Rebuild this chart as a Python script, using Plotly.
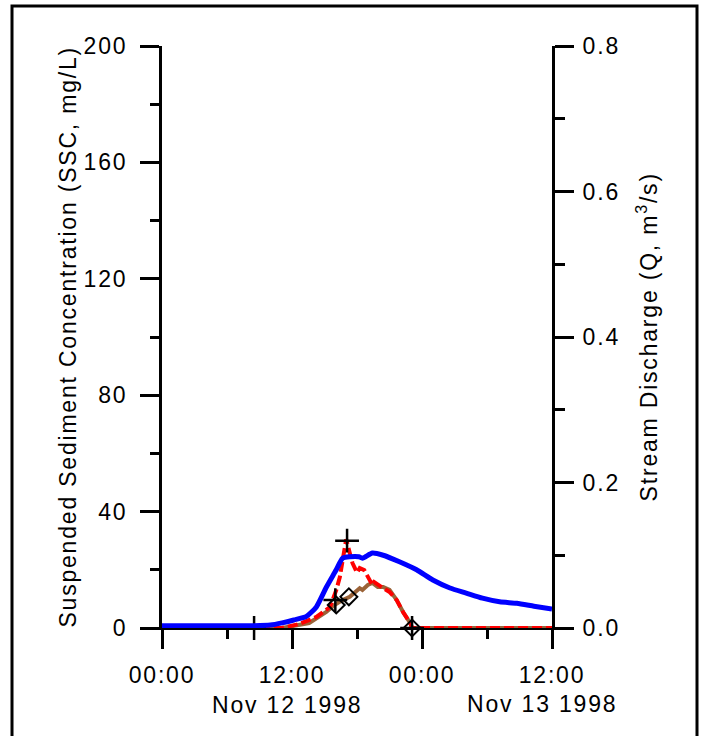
import plotly.graph_objects as go

# ---- data ----
q_time = ["1998-11-12 00:00", "1998-11-12 08:00", "1998-11-12 10:00", "1998-11-12 11:05",
          "1998-11-12 12:10", "1998-11-12 13:20", "1998-11-12 14:15", "1998-11-12 15:10",
          "1998-11-12 16:05", "1998-11-12 16:40", "1998-11-12 17:20", "1998-11-12 18:10",
          "1998-11-12 18:30", "1998-11-12 19:25", "1998-11-12 20:25", "1998-11-12 21:55",
          "1998-11-12 23:30", "1998-11-13 01:00", "1998-11-13 02:35", "1998-11-13 04:05",
          "1998-11-13 05:35", "1998-11-13 07:10", "1998-11-13 08:45", "1998-11-13 10:20",
          "1998-11-13 12:00"]
q_vals = [0.003, 0.003, 0.004, 0.007, 0.011, 0.016, 0.029, 0.056, 0.080, 0.096, 0.098, 0.098,
          0.096, 0.103, 0.100, 0.091, 0.080, 0.066, 0.055, 0.048, 0.041, 0.036, 0.034, 0.030,
          0.026]

ssc_time = ["1998-11-12 00:00", "1998-11-12 11:05", "1998-11-12 12:40", "1998-11-12 14:15",
            "1998-11-12 15:30", "1998-11-12 16:05", "1998-11-12 16:25", "1998-11-12 16:40",
            "1998-11-12 17:00", "1998-11-12 17:20", "1998-11-12 17:35", "1998-11-12 18:00",
            "1998-11-12 18:15", "1998-11-12 18:40", "1998-11-12 19:00", "1998-11-12 19:25",
            "1998-11-12 19:35", "1998-11-12 19:55", "1998-11-12 20:25", "1998-11-12 21:00",
            "1998-11-12 21:40", "1998-11-12 22:15", "1998-11-12 22:55", "1998-11-12 23:05",
            "1998-11-13 12:00"]
ssc_vals = [0, 0, 1.4, 3.8, 7.2, 13, 17.5, 24, 30.5, 25.8, 22.3, 19, 20.6, 19.9, 17.5, 14.8,
            15.8, 14.8, 13.7, 12.4, 9.6, 5.5, 1.7, 0, 0]

turb_time = ["1998-11-12 00:00", "1998-11-12 11:05", "1998-11-12 13:35", "1998-11-12 15:10",
             "1998-11-12 15:55", "1998-11-12 16:40", "1998-11-12 17:20", "1998-11-12 17:45",
             "1998-11-12 18:15", "1998-11-12 18:30", "1998-11-12 19:00", "1998-11-12 19:25",
             "1998-11-12 19:55", "1998-11-12 20:25", "1998-11-12 21:00", "1998-11-12 21:40",
             "1998-11-12 22:15", "1998-11-12 22:55", "1998-11-12 23:05", "1998-11-13 12:00"]
turb_vals = [0, 0, 1.7, 5.5, 7.9, 9.6, 10.7, 12.0, 13.7, 13.1, 14.8, 15.5, 14.1, 14.1, 13.1,
             9.6, 5.5, 1.7, 0, 0]

plus_time = ["1998-11-12 08:30", "1998-11-12 16:00", "1998-11-12 17:05", "1998-11-12 23:05"]
plus_vals = [0, 9.6, 30, 0]

diam_time = ["1998-11-12 16:05", "1998-11-12 17:15", "1998-11-12 23:05"]
diam_vals = [7.9, 10.7, 0]

x_ticks = ["1998-11-12 00:00", "1998-11-12 12:00", "1998-11-13 00:00", "1998-11-13 12:00"]
x_labels = ["00:00", "12:00", "00:00", "12:00"]
date_labels = ["Nov 12 1998", "Nov 13 1998"]

FONT = "Liberation Sans, Arial, sans-serif"
FS = 23

fig = go.Figure()
fig.add_trace(go.Scatter(x=turb_time, y=turb_vals, mode="lines",
                         line=dict(color="#9B6338", width=4), cliponaxis=False))
fig.add_trace(go.Scatter(x=ssc_time, y=ssc_vals, mode="lines",
                         line=dict(color="#FF0000", width=4, dash="10px,4px"), cliponaxis=False))
fig.add_trace(go.Scatter(x=q_time, y=q_vals, mode="lines", yaxis="y2",
                         line=dict(color="#0000FF", width=5, shape="spline", smoothing=0.6),
                         cliponaxis=False))
fig.add_trace(go.Scatter(x=plus_time, y=plus_vals, mode="markers", cliponaxis=False,
                         marker=dict(symbol="cross-thin-open", size=17, color="black",
                                     line=dict(color="black", width=2.5))))
fig.add_trace(go.Scatter(x=diam_time, y=diam_vals, mode="markers", cliponaxis=False,
                         marker=dict(symbol="diamond-open", size=13, color="black",
                                     line=dict(color="black", width=2))))

axis_common = dict(showgrid=False, zeroline=False, showline=True, linecolor="black",
                   ticks="outside", tickcolor="black", tickwidth=3,
                   tickfont=dict(family=FONT, size=FS, color="black"))

fig.update_layout(
    width=705, height=736,
    margin=dict(l=162, r=153, t=46, b=108),
    paper_bgcolor="white", plot_bgcolor="white",
    showlegend=False,
    font=dict(family=FONT, size=FS, color="black"),
    xaxis=dict(axis_common, type="date",
               range=["1998-11-12 00:00", "1998-11-13 12:00"],
               tickvals=x_ticks, ticktext=x_labels, ticklen=19, linewidth=2,
               ticklabelstandoff=6, layer="below traces",
               minor=dict(dtick=6 * 3600 * 1000, tick0="1998-11-12", ticklen=9,
                          tickwidth=2.5, tickcolor="black", ticks="outside")),
    yaxis=dict(axis_common, range=[0, 200], dtick=40, tick0=0, ticklen=19, linewidth=3,
               ticklabelstandoff=8,
               minor=dict(dtick=20, ticklen=9, tickwidth=2.5, tickcolor="black",
                          ticks="outside")),
    yaxis2=dict(axis_common, overlaying="y", side="right", range=[0, 0.8], dtick=0.2,
                tick0=0, tickformat=".1f", ticklen=19, linewidth=3, ticklabelstandoff=4,
                minor=dict(dtick=0.1, ticklen=10, tickwidth=2.5, tickcolor="black",
                           ticks="outside")),
)

# outer frame
fig.add_shape(type="rect", xref="paper", yref="paper",
              x0=-0.3846, x1=1.3718, y0=-0.25, y1=1.0687,
              line=dict(color="black", width=3), fillcolor="rgba(0,0,0,0)", layer="below")

# axis titles
fig.add_annotation(text="Suspended Sediment Concentration (SSC, mg/L)", textangle=-90,
                   xref="paper", yref="paper", x=(68 - 162) / 390, y=0.5,
                   xanchor="center", yanchor="middle", showarrow=False,
                   font=dict(family=FONT, size=FS, color="black"))
fig.add_annotation(text="Stream Discharge (Q, m<sup>3</sup>/s)", textangle=-90,
                   xref="paper", yref="paper", x=(647 - 162) / 390, y=0.5,
                   xanchor="center", yanchor="middle", showarrow=False,
                   font=dict(family=FONT, size=FS, color="black"))

# date labels under the time axis
fig.add_annotation(text=date_labels[0], xref="paper", yref="paper",
                   x=(287 - 162) / 390, y=(628 - 705) / 582,
                   xanchor="center", yanchor="middle", showarrow=False,
                   font=dict(family=FONT, size=FS, color="black"))
fig.add_annotation(text=date_labels[1], xref="paper", yref="paper",
                   x=(542 - 162) / 390, y=(628 - 704) / 582,
                   xanchor="center", yanchor="middle", showarrow=False,
                   font=dict(family=FONT, size=FS, color="black"))

# widen the character spacing a little, as in the original typesetting
spacing_js = """
var gd = document.getElementById('{plot_id}');
function widen(){ gd.querySelectorAll('text').forEach(function(t){ t.style.letterSpacing='1.8px'; }); }
widen();
gd.on('plotly_afterplot', widen);
"""

fig.write_html("out.html", post_script=spacing_js)
